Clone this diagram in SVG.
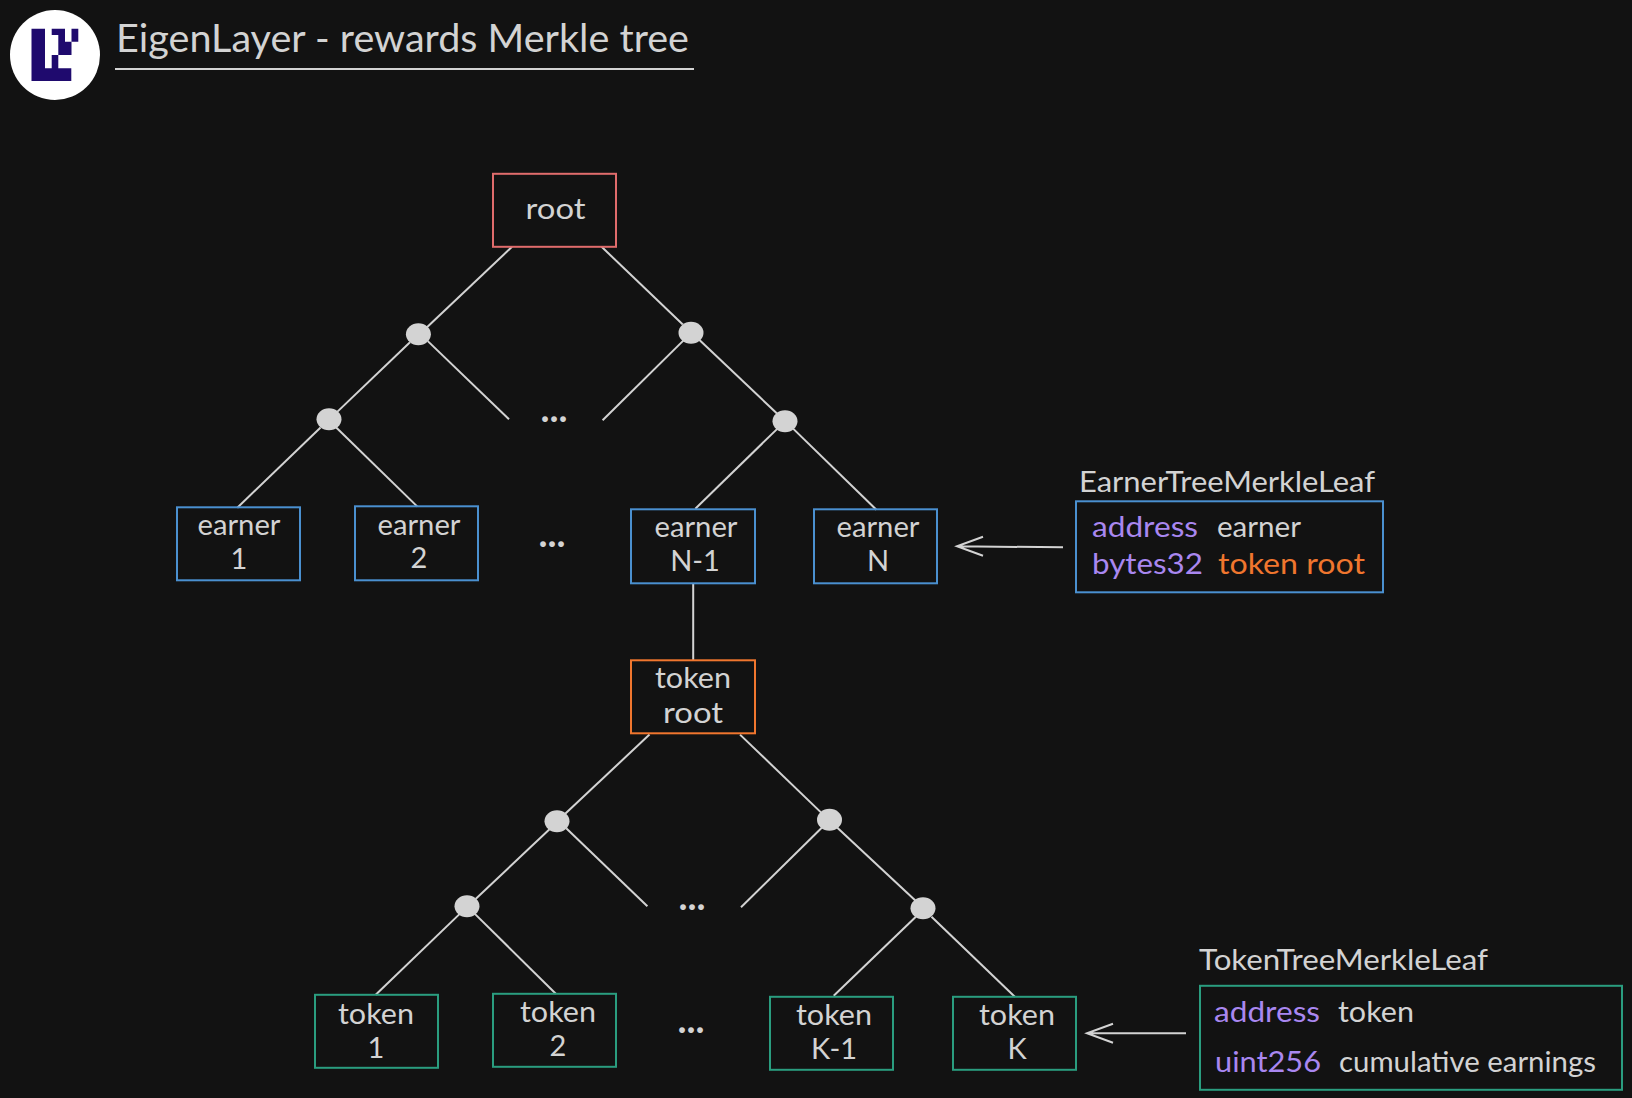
<svg xmlns="http://www.w3.org/2000/svg" width="1632" height="1098" viewBox="0 0 1632 1098">
<style>
text{font-family:"Lato","Noto Sans",sans-serif;font-size:29px;fill:#d3d3d3}
.m{text-anchor:middle}
.p{fill:#a987f0}
.o{fill:#f0762e}
.e{font-size:38px;font-weight:700}
rect.n{fill:none;stroke-width:2}
.red{stroke:#e06c6c}.blue{stroke:#4a90d0}.orange{stroke:#f0762e}.green{stroke:#2a9d7f}
#connectors line{stroke:#d3d3d3;stroke-width:2}
#connectors path{stroke:#d3d3d3;stroke-width:2;fill:none}
.dot{fill:#d3d3d3}
</style>
<rect width="1632" height="1098" fill="#121212"/>
<g id="logo">
<circle cx="55" cy="55" r="45" fill="#fff"/>
<path d="M31.500 28.700H45V68.300H51.700V55H58.300V68.300H71.300V81H31.500ZM51.700 28.700H65V41.700H71.500V28.700H78.300V41.700H71.500V55H58.300V35H51.700Z" fill="#1f0a6e"/>
</g>
<g id="title">
<text x="116" y="52" textLength="573" lengthAdjust="spacingAndGlyphs" style="font-size:38px">EigenLayer - rewards Merkle tree</text>
<line x1="115" y1="69" x2="694" y2="69" stroke="#d3d3d3" stroke-width="2"/>
</g>
<g id="tree" transform="translate(0,0.800)">
<g id="connectors">
<line x1="512" y1="246" x2="426.700" y2="326.800"/>
<line x1="601.600" y1="246" x2="682.800" y2="323.700"/>
<line x1="410" y1="341.400" x2="337.200" y2="411.100"/>
<line x1="427.800" y1="340.300" x2="509" y2="418.400"/>
<line x1="683.800" y1="339.300" x2="602.600" y2="419.400"/>
<line x1="698.400" y1="338.300" x2="777.500" y2="413.200"/>
<line x1="320.600" y1="426.700" x2="237.300" y2="506.900"/>
<line x1="336.200" y1="426.700" x2="417.400" y2="505.800"/>
<line x1="777.500" y1="427.800" x2="695.300" y2="507.900"/>
<line x1="793.100" y1="427.800" x2="876.400" y2="509"/>
<line x1="693.200" y1="582.800" x2="693.200" y2="659.900"/>
<line x1="649.500" y1="733.800" x2="565.200" y2="812.900"/>
<line x1="740" y1="733.800" x2="821.200" y2="811.800"/>
<line x1="549.500" y1="828.500" x2="475.600" y2="898.200"/>
<line x1="566.200" y1="827.400" x2="647.400" y2="905.500"/>
<line x1="823.300" y1="825.400" x2="741" y2="906.500"/>
<line x1="836.800" y1="826.400" x2="915.900" y2="900.300"/>
<line x1="460" y1="912.800" x2="375.700" y2="994"/>
<line x1="474.600" y1="912.800" x2="555.800" y2="992.900"/>
<line x1="915.900" y1="915.900" x2="833.700" y2="995"/>
<line x1="931.500" y1="915.900" x2="1014.800" y2="996"/>
<path d="M1063 546.500L957 545.500M983 536L957 545.500L983 555"/>
<path d="M1186 1032.500H1087M1113 1023L1087 1032.500L1113 1042"/>
</g>
<g id="branches">
<ellipse class="dot" cx="418.400" cy="333.500" rx="12.500" ry="11"/>
<ellipse class="dot" cx="691" cy="332" rx="12.500" ry="11"/>
<ellipse class="dot" cx="329" cy="418.500" rx="12.500" ry="11"/>
<ellipse class="dot" cx="785" cy="420.500" rx="12.500" ry="11"/>
<ellipse class="dot" cx="557" cy="820.500" rx="12.500" ry="11"/>
<ellipse class="dot" cx="829.500" cy="819" rx="12.500" ry="11"/>
<ellipse class="dot" cx="467" cy="905.500" rx="12.500" ry="11"/>
<ellipse class="dot" cx="923" cy="907.500" rx="12.500" ry="11"/>
</g>
<g id="root"><rect class="n red" x="493" y="173" width="123" height="73"/><text class="m" x="555.500" y="218" textLength="60" lengthAdjust="spacingAndGlyphs">root</text></g>
<g id="earner-1"><rect class="n blue" x="177" y="506.500" width="123" height="73"/><text class="m" x="239" y="534" textLength="83" lengthAdjust="spacingAndGlyphs">earner</text><text class="m" x="239" y="568">1</text></g>
<g id="earner-2"><rect class="n blue" x="355" y="505.500" width="123" height="74"/><text class="m" x="419" y="534" textLength="83" lengthAdjust="spacingAndGlyphs">earner</text><text class="m" x="419" y="567">2</text></g>
<g id="dots-earner"><text class="m e" x="552" y="546">...</text></g>
<g id="dots-upper"><text class="m e" x="554" y="421">...</text></g>
<g id="earner-n-1"><rect class="n blue" x="631" y="508.500" width="124" height="74"/><text class="m" x="696" y="536" textLength="83" lengthAdjust="spacingAndGlyphs">earner</text><text class="m" x="695" y="570">N-1</text></g>
<g id="earner-n"><rect class="n blue" x="814" y="508.500" width="123" height="74"/><text class="m" x="878" y="536" textLength="83" lengthAdjust="spacingAndGlyphs">earner</text><text class="m" x="878" y="570">N</text></g>
<g id="token-root"><rect class="n orange" x="631" y="659.500" width="124" height="73"/><text class="m" x="693" y="687" textLength="76" lengthAdjust="spacingAndGlyphs">token</text><text class="m" x="693" y="722" textLength="60" lengthAdjust="spacingAndGlyphs">root</text></g>
<g id="dots-lower"><text class="m e" x="692" y="909">...</text></g>
<g id="dots-token"><text class="m e" x="691" y="1032">...</text></g>
<g id="token-1"><rect class="n green" x="315" y="994" width="123" height="73"/><text class="m" x="376" y="1023" textLength="76" lengthAdjust="spacingAndGlyphs">token</text><text class="m" x="376" y="1057">1</text></g>
<g id="token-2"><rect class="n green" x="493" y="993" width="123" height="73"/><text class="m" x="558" y="1021" textLength="76" lengthAdjust="spacingAndGlyphs">token</text><text class="m" x="558" y="1055">2</text></g>
<g id="token-k-1"><rect class="n green" x="770" y="996" width="123" height="73"/><text class="m" x="834" y="1024" textLength="76" lengthAdjust="spacingAndGlyphs">token</text><text class="m" x="834" y="1058">K-1</text></g>
<g id="token-k"><rect class="n green" x="953" y="996" width="123" height="73"/><text class="m" x="1017" y="1024" textLength="76" lengthAdjust="spacingAndGlyphs">token</text><text class="m" x="1017" y="1058">K</text></g>
<g id="earner-leaf">
<text x="1079" y="491" textLength="296" lengthAdjust="spacingAndGlyphs">EarnerTreeMerkleLeaf</text>
<rect class="n blue" x="1076" y="500.500" width="307" height="91"/>
<text class="p" x="1092" y="536" textLength="106" lengthAdjust="spacingAndGlyphs">address</text><text x="1217" y="536" textLength="84" lengthAdjust="spacingAndGlyphs">earner</text>
<text class="p" x="1092" y="573" textLength="111" lengthAdjust="spacingAndGlyphs">bytes32</text><text class="o" x="1218" y="573" textLength="147" lengthAdjust="spacingAndGlyphs">token root</text>
</g>
<g id="token-leaf">
<text x="1199" y="969" textLength="289" lengthAdjust="spacingAndGlyphs">TokenTreeMerkleLeaf</text>
<rect class="n green" x="1200" y="985" width="422" height="104"/>
<text class="p" x="1214" y="1021" textLength="106" lengthAdjust="spacingAndGlyphs">address</text><text x="1338" y="1021" textLength="76" lengthAdjust="spacingAndGlyphs">token</text>
<text class="p" x="1215" y="1071" textLength="106" lengthAdjust="spacingAndGlyphs">uint256</text><text x="1339" y="1071" textLength="257" lengthAdjust="spacingAndGlyphs">cumulative earnings</text>
</g>
</g>
</svg>
